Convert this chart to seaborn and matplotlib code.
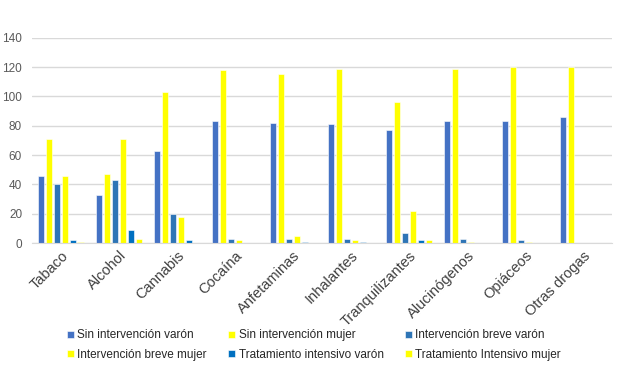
import matplotlib
matplotlib.use("Agg")
import matplotlib.pyplot as plt
import seaborn as sns
import pandas as pd

categorias = ["Tabaco", "Alcohol", "Cannabis", "Cocaína", "Anfetaminas", "Inhalantes",
              "Tranquilizantes", "Alucinógenos", "Opiáceos", "Otras drogas"]

series = ["Sin intervención varón", "Sin intervención mujer", "Intervención breve varón",
          "Intervención breve mujer", "Tratamiento intensivo varón", "Tratamiento Intensivo mujer"]

sin_varon = [46, 33, 63, 83, 82, 81, 77, 83, 83, 86]
sin_mujer = [71, 47, 103, 118, 115, 119, 96, 119, 120, 120]
breve_varon = [40, 43, 20, 3, 3, 3, 7, 3, 2, 0]
breve_mujer = [46, 71, 18, 2, 5, 2, 22, 1, 1, 0]
intensivo_varon = [2, 9, 2, 0, 1, 1, 2, 0, 0, 0]
intensivo_mujer = [0.5, 3, 0, 0, 0, 0, 2, 0, 0, 0]

valores = [sin_varon, sin_mujer, breve_varon, breve_mujer, intensivo_varon, intensivo_mujer]
colores = ["#4472C4", "#FFFF00", "#2E75B6", "#FFFF00", "#0070C0", "#FFFF00"]

rows = []
for s, vals in zip(series, valores):
    for c, v in zip(categorias, vals):
        rows.append({"Droga": c, "Serie": s, "Valor": v})
df = pd.DataFrame(rows)

sns.set_style("white")
plt.rcParams["font.family"] = ["Liberation Sans", "DejaVu Sans"]

fig = plt.figure(figsize=(6.24, 3.71), dpi=100)
ax = fig.add_axes([0.051, 0.345, 0.930, 0.553])

sns.barplot(data=df, x="Droga", y="Valor", hue="Serie", hue_order=series,
            palette=colores, saturation=1, width=0.82, gap=0.2, ax=ax,
            edgecolor="white", linewidth=0.4, errorbar=None, legend=True)

ax.set_ylim(0, 140)
ax.set_yticks(range(0, 141, 20))
ax.set_xlim(-0.5, 9.5)
ax.grid(axis="y", color="#D9D9D9", linewidth=1)
ax.set_axisbelow(True)
for sp in ["top", "left", "right"]:
    ax.spines[sp].set_visible(False)
ax.spines["bottom"].set_color("#D9D9D9")
ax.set_xlabel("")
ax.set_ylabel("")
ax.tick_params(axis="y", labelsize=8.5, colors="#595959", length=0, pad=7)
ax.tick_params(axis="x", labelsize=10.5, colors="#404040", length=0, pad=4)
plt.setp(ax.get_xticklabels(), rotation=45, ha="right", rotation_mode="anchor")

handles, labels = ax.get_legend_handles_labels()
ax.get_legend().remove()
order = [0, 3, 1, 4, 2, 5]
fig.legend([handles[i] for i in order], [labels[i] for i in order],
           loc="center", bbox_to_anchor=(0.503, 0.070), ncol=3, frameon=False,
           fontsize=8.5, handlelength=0.6, handleheight=0.6, handletextpad=0.3,
           columnspacing=1.8, labelspacing=0.6)

fig.savefig("out.png", dpi=100)
